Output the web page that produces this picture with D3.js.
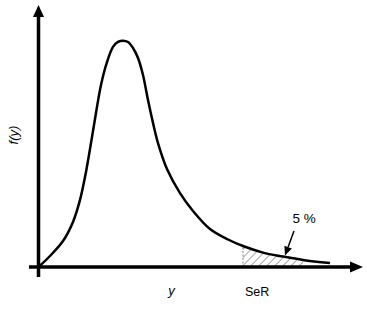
<!DOCTYPE html>
<html>
<head>
<meta charset="utf-8">
<script src="https://cdn.jsdelivr.net/npm/d3@7"></script>
<style>
  html, body { margin: 0; padding: 0; background: #fff; }
  svg { display: block; font-family: "Liberation Sans", Arial, sans-serif; }
</style>
</head>
<body>
<div id="chart"></div>
<script>
// density curve (x in arbitrary units, y = f(y))
const curveX = [0, 0.355, 0.757, 1.066, 1.283, 1.468, 1.623, 1.777, 1.932, 2.117, 2.303, 2.457,
                2.612, 2.767, 2.921, 3.076, 3.230, 3.385, 3.539, 3.694, 3.972, 4.374, 4.776,
                5.301, 5.858, 6.321, 6.940, 7.558, 8.176, 9.011];
const curveY = [0, 0.042, 0.099, 0.172, 0.256, 0.363, 0.473, 0.588, 0.695, 0.782, 0.840, 0.859,
                0.864, 0.859, 0.836, 0.798, 0.733, 0.637, 0.550, 0.473, 0.374, 0.282, 0.214,
                0.145, 0.105, 0.080, 0.055, 0.040, 0.027, 0.015];
const serX = 6.321;         // SeR threshold
const hatchEnd = 8.176;     // end of hatched tail
const tailLabel = "5 %";
const arrowFrom = [7.898, 0.137];
const arrowTo = [7.620, 0.044];
const xLabel = "y", yLabel = "f(y)", serLabel = "SeR";

const W = 367, H = 309;
const svg = d3.select("#chart").append("svg").attr("width", W).attr("height", H);

const x = d3.scaleLinear().domain([0, 10]).range([38.5, 362]);
const y = d3.scaleLinear().domain([0, 1]).range([267, 5]);

const pts = curveX.map((v, i) => ({ x: v, y: curveY[i] }));
const curve = d3.curveCatmullRom.alpha(0.5);

// hatch pattern
const defs = svg.append("defs");
const pat = defs.append("pattern").attr("id", "hatch").attr("patternUnits", "userSpaceOnUse")
  .attr("width", 5.7).attr("height", 6).attr("patternTransform", "rotate(45)");
pat.append("line").attr("x1", 0).attr("y1", 0).attr("x2", 0).attr("y2", 6)
  .attr("stroke", "#333").attr("stroke-width", 0.9);

const tail = pts.filter(d => d.x >= serX && d.x <= hatchEnd);
svg.append("path").datum(tail)
  .attr("fill", "url(#hatch)")
  .attr("d", d3.area().x(d => x(d.x)).y0(y(0)).y1(d => y(d.y)).curve(curve));

// dashed SeR line
const serY = curveY[curveX.indexOf(serX)];
svg.append("line").attr("x1", x(serX)).attr("x2", x(serX)).attr("y1", y(0)).attr("y2", y(serY))
  .attr("stroke", "#666").attr("stroke-width", 0.8).attr("stroke-dasharray", "2,1.5");

// axes with arrows
svg.append("line").attr("x1", x(0)).attr("x2", x(0)).attr("y1", 277).attr("y2", 14)
  .attr("stroke", "#000").attr("stroke-width", 3.5);
svg.append("path").attr("d", `M${x(0)},5 L${x(0) - 5.5},17 L${x(0) + 5.5},17 Z`).attr("fill", "#000");
svg.append("line").attr("x1", 29).attr("x2", 352).attr("y1", y(0)).attr("y2", y(0))
  .attr("stroke", "#000").attr("stroke-width", 3.5);
svg.append("path").attr("d", `M363,${y(0)} L350,${y(0) - 5.5} L350,${y(0) + 5.5} Z`).attr("fill", "#000");

// density curve
svg.append("path").datum(pts)
  .attr("fill", "none").attr("stroke", "#000").attr("stroke-width", 2.5)
  .attr("d", d3.line().x(d => x(d.x)).y(d => y(d.y)).curve(curve));

// annotation arrow
const ax1 = x(arrowFrom[0]), ay1 = y(arrowFrom[1]), ax2 = x(arrowTo[0]), ay2 = y(arrowTo[1]);
const ang = Math.atan2(ay2 - ay1, ax2 - ax1);
const hl = 9, hw = 4;
const bx = ax2 - hl * Math.cos(ang), by = ay2 - hl * Math.sin(ang);
svg.append("line").attr("x1", ax1).attr("y1", ay1).attr("x2", bx).attr("y2", by)
  .attr("stroke", "#000").attr("stroke-width", 1.5);
svg.append("path")
  .attr("d", `M${ax2},${ay2} L${bx + hw * Math.sin(ang)},${by - hw * Math.cos(ang)} L${bx - hw * Math.sin(ang)},${by + hw * Math.cos(ang)} Z`)
  .attr("fill", "#000");

// labels
svg.append("text").attr("x", x(8.21)).attr("y", y(0.168)).attr("text-anchor", "middle")
  .style("font-size", "13.5px").text(tailLabel);
svg.append("text").attr("x", 245).attr("y", 296).style("font-size", "12.5px").text(serLabel);
svg.append("text").attr("x", 171.5).attr("y", 295).attr("text-anchor", "middle")
  .style("font-size", "13px").style("font-style", "italic").text(xLabel);
svg.append("text").attr("transform", "translate(18,135) rotate(-90)").attr("text-anchor", "middle")
  .style("font-size", "13px").style("font-style", "italic").text(yLabel);
</script>
</body>
</html>
